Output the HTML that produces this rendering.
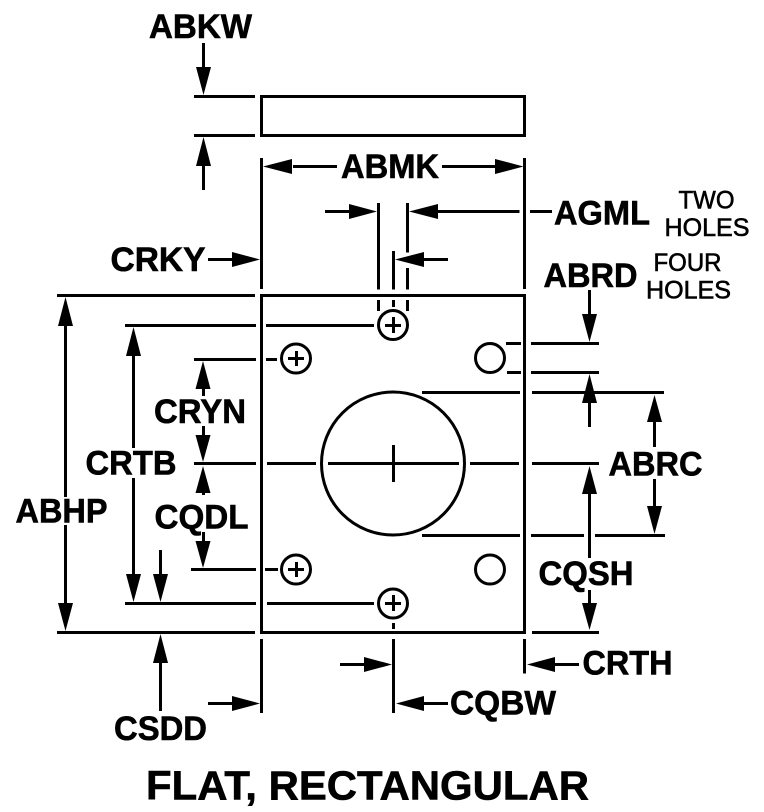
<!DOCTYPE html>
<html><head><meta charset="utf-8"><style>
html,body{margin:0;padding:0;background:#fff;width:764px;height:812px;overflow:hidden}
svg{display:block}
text{font-family:"Liberation Sans",Arial,sans-serif;font-weight:700;fill:#000;font-size:34px;stroke:#000;stroke-width:.6}
.s{font-size:25px;font-weight:400;stroke:#000;stroke-width:.6}
</style></head><body>
<svg width="764" height="812" viewBox="0 0 764 812" xmlns="http://www.w3.org/2000/svg">
<g fill="none" stroke="#000" stroke-width="3">
<path d="M261.5 96.5H524.5V135.5H261.5Z"/>
<path d="M261.5 295.5H524.5V632.5H261.5Z"/>
<circle cx="393" cy="463.5" r="71.5"/>
<circle cx="393" cy="325" r="14.5"/>
<circle cx="393" cy="603.5" r="14.5"/>
<circle cx="296" cy="358.5" r="14.5"/>
<circle cx="296" cy="569.5" r="14.5"/>
<circle cx="490" cy="358" r="14.5"/>
<circle cx="490" cy="569.5" r="14.5"/>
<g shape-rendering="crispEdges">
<path d="M385 325.5H401M393.5 317V333M385 603.5H401M393.5 595V611M288 358.5H304M296.5 351V366M288 569.5H304M296.5 562V577"/>
<path d="M194 96.5H255M194 135.5H255"/>
<path d="M203.5 43V70M203.5 165V190"/>
<path d="M261.5 158V289M524.5 158V289M293 166.5H337M442 166.5H496"/>
<path d="M378.5 203V289.5M378.5 300V311M407.5 203V252.5M407.5 268V289.5M407.5 300V311M393.5 251V289.5M393.5 300V307"/>
<path d="M325 211.5H350M437 211.5H519.5M530 211.5H552M423 259.5H448M208 259.5H233"/>
<path d="M57 295.5H255M65.5 325V497M65.5 525V604"/>
<path d="M125 325.5H256M266 325.5H374M133.5 355V448M133.5 478V575"/>
<path d="M194 359.5H256M266 359.5H277M203.5 388V396M203.5 426V436"/>
<path d="M194 463.5H256M267 463.5H316M328 463.5H459M470 463.5H519M532 463.5H599"/>
<path d="M393.5 445V482"/>
<path d="M203.5 490V495M203.5 532V541"/>
<path d="M191 569.5H256M265 569.5H278"/>
<path d="M125 603.5H256M267 603.5H374M160.5 550V575"/>
<path d="M57 632.5H255M160.5 662V711M208 703.5H233"/>
<path d="M261.5 639V713M393.5 623V629M393.5 639V713M340 664.5H365M423 703.5H448"/>
<path d="M524.5 639V673.5M554 664.5H579"/>
<path d="M506 343.5H521M507 372.5H521M531 343.5H599M531 372.5H599"/>
<path d="M589.5 290V315M589.5 402V427"/>
<path d="M422 392.5H520M532 392.5H664M422 535.5H520M531 535.5H584M595 535.5H665"/>
<path d="M654.5 421V447M654.5 479V507M589.5 493V558M589.5 590V604"/>
<path d="M532 632.5H599"/>
</g>
</g>
<g fill="#000">
<path d="M203.5 95L196 67H211Z"/>
<path d="M203.5 137L196 166H211Z"/>
<path d="M263 166.5L292 159V174Z"/>
<path d="M523.5 166.5L495 159V174Z"/>
<path d="M377 211.5L349 204V219Z"/>
<path d="M409 211.5L438 204V219Z"/>
<path d="M395 259.5L424 252V267Z"/>
<path d="M260 259.5L232 252V267Z"/>
<path d="M65.5 297L58 326H73Z"/>
<path d="M65.5 631L58 603H73Z"/>
<path d="M133.5 327L126 356H141Z"/>
<path d="M133.5 602L126 574H141Z"/>
<path d="M160.5 602L153 574H168Z"/>
<path d="M160.5 634L153 663H168Z"/>
<path d="M203 361L195.5 389H210.5Z"/>
<path d="M203 462L195.5 435H210.5Z"/>
<path d="M203 466L195.5 493H210.5Z"/>
<path d="M203 568L195.5 541H210.5Z"/>
<path d="M260 703.5L232 696V711Z"/>
<path d="M392 664.5L364 657V672Z"/>
<path d="M396 703.5L424 696V711Z"/>
<path d="M527 664.5L555 657V672Z"/>
<path d="M589.5 342L582 314H597Z"/>
<path d="M589.5 374L582 403H597Z"/>
<path d="M654.5 395L647 422H662Z"/>
<path d="M654.5 534L647 506H662Z"/>
<path d="M589.5 466L582 494H597Z"/>
<path d="M589.5 630L582 603H597Z"/>
</g>
<text x="149" y="38" textLength="103" lengthAdjust="spacingAndGlyphs">ABKW</text>
<text x="341" y="178" textLength="98" lengthAdjust="spacingAndGlyphs">ABMK</text>
<text x="554" y="224.5" textLength="96" lengthAdjust="spacingAndGlyphs">AGML</text>
<text x="543.5" y="287" textLength="94" lengthAdjust="spacingAndGlyphs">ABRD</text>
<text x="110.5" y="271" textLength="95" lengthAdjust="spacingAndGlyphs">CRKY</text>
<text x="154" y="423" textLength="92" lengthAdjust="spacingAndGlyphs">CRYN</text>
<text x="85.5" y="474.5" textLength="91" lengthAdjust="spacingAndGlyphs">CRTB</text>
<text x="15.5" y="522.5" textLength="92" lengthAdjust="spacingAndGlyphs">ABHP</text>
<text x="154.5" y="528.5" textLength="94" lengthAdjust="spacingAndGlyphs">CQDL</text>
<text x="608.5" y="475.5" textLength="94" lengthAdjust="spacingAndGlyphs">ABRC</text>
<text x="538.5" y="585" textLength="95" lengthAdjust="spacingAndGlyphs">CQSH</text>
<text x="582.5" y="674.5" textLength="90" lengthAdjust="spacingAndGlyphs">CRTH</text>
<text x="450" y="714.5" textLength="106" lengthAdjust="spacingAndGlyphs">CQBW</text>
<text x="114" y="740" textLength="93" lengthAdjust="spacingAndGlyphs">CSDD</text>
<text x="146" y="799.5" textLength="443" lengthAdjust="spacingAndGlyphs" style="font-size:41px">FLAT, RECTANGULAR</text>
<text class="s" x="678.5" y="208.5" textLength="56" lengthAdjust="spacingAndGlyphs">TWO</text>
<text class="s" x="664.5" y="236" textLength="85" lengthAdjust="spacingAndGlyphs">HOLES</text>
<text class="s" x="653.5" y="271" textLength="68" lengthAdjust="spacingAndGlyphs">FOUR</text>
<text class="s" x="646" y="298.5" textLength="85" lengthAdjust="spacingAndGlyphs">HOLES</text>
</svg>
</body></html>
